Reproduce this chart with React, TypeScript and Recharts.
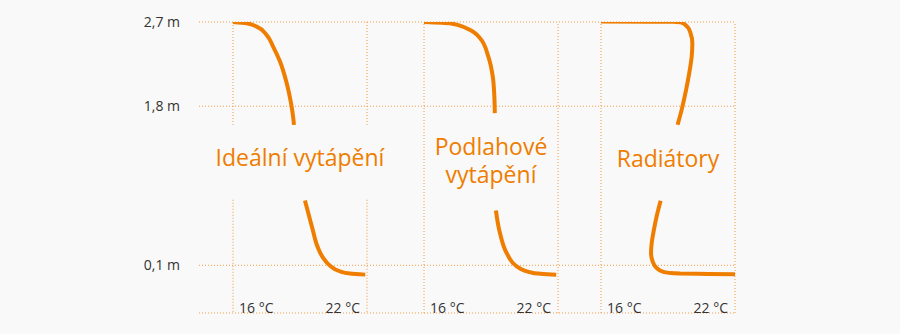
import React from "react";
import { LineChart, Line, XAxis, YAxis, CartesianGrid, ReferenceLine, ReferenceDot } from "recharts";

interface ProfilePoint {
  t: number; // teplota, °C
  h: number; // výška nad podlahou, m
}

const heightTicks = [0.1, 1.8, 2.7];
const tempTicks = [16, 22];

// Ideální vytápění
const idealTop: ProfilePoint[] = [
  { t: 16.0, h: 2.7 },
  { t: 16.61, h: 2.686 },
  { t: 17.06, h: 2.65 },
  { t: 17.51, h: 2.56 },
  { t: 17.79, h: 2.44 },
  { t: 18.1, h: 2.28 },
  { t: 18.4, h: 2.05 },
  { t: 18.6, h: 1.83 },
  { t: 18.7, h: 1.67 },
  { t: 18.73, h: 1.6 },
];
const idealBottom: ProfilePoint[] = [
  { t: 19.22, h: 0.793 },
  { t: 19.37, h: 0.658 },
  { t: 19.57, h: 0.48 },
  { t: 19.78, h: 0.302 },
  { t: 20.04, h: 0.178 },
  { t: 20.34, h: 0.096 },
  { t: 20.79, h: 0.035 },
  { t: 21.24, h: 0.012 },
  { t: 21.92, h: 0.0 },
];

// Podlahové vytápění
const floorTop: ProfilePoint[] = [
  { t: 16.0, h: 2.7 },
  { t: 17.16, h: 2.686 },
  { t: 17.91, h: 2.633 },
  { t: 18.51, h: 2.526 },
  { t: 18.88, h: 2.33 },
  { t: 19.08, h: 2.116 },
  { t: 19.15, h: 1.903 },
  { t: 19.17, h: 1.726 },
];
const floorBottom: ProfilePoint[] = [
  { t: 19.22, h: 0.686 },
  { t: 19.4, h: 0.445 },
  { t: 19.7, h: 0.232 },
  { t: 20.15, h: 0.089 },
  { t: 20.89, h: 0.018 },
  { t: 21.92, h: 0.0 },
];

// Radiátory
const radiatorTop: ProfilePoint[] = [
  { t: 16.0, h: 2.706 },
  { t: 18.2, h: 2.704 },
  { t: 19.24, h: 2.702 },
  { t: 19.61, h: 2.693 },
  { t: 19.86, h: 2.65 },
  { t: 20.01, h: 2.58 },
  { t: 20.09, h: 2.473 },
  { t: 20.06, h: 2.33 },
  { t: 19.95, h: 2.153 },
  { t: 19.81, h: 1.974 },
  { t: 19.61, h: 1.761 },
  { t: 19.43, h: 1.601 },
];
const radiatorBottom: ProfilePoint[] = [
  { t: 18.67, h: 0.79 },
  { t: 18.49, h: 0.622 },
  { t: 18.37, h: 0.48 },
  { t: 18.27, h: 0.338 },
  { t: 18.24, h: 0.232 },
  { t: 18.31, h: 0.142 },
  { t: 18.49, h: 0.071 },
  { t: 18.79, h: 0.029 },
  { t: 19.54, h: 0.011 },
  { t: 20.8, h: 0.008 },
  { t: 22.0, h: 0.005 },
];

const ORANGE = "#ef7d00";
const GRID = "#f29a40";
const TEXT = "#333333";
const BG = "#f9f9f9";

const WIDTH = 900;
const HEIGHT = 334;
const PLOT_LEFT = 199;
const PLOT_RIGHT = 735;
const PLOT_BOTTOM = 313;
const AXIS_H = 7;
const H_MIN = -0.41;
const H_MAX = 2.7;

interface Panel {
  id: string;
  left: number; // x pozice 16 °C
  right: number; // x pozice 22 °C
  title: string[];
  titleH: number;
  top: ProfilePoint[];
  bottom: ProfilePoint[];
  gridGap?: [number, number];
}

// ids sort in panel order, which is also the order the bottom axes are stacked in
const panels: Panel[] = [
  { id: "p1", left: 233, right: 367, title: ["Ideální vytápění"], titleH: 1.25, top: idealTop, bottom: idealBottom, gridGap: [1.6, 0.8] },
  { id: "p2", left: 424, right: 558, title: ["Podlahové", "vytápění"], titleH: 1.21, top: floorTop, bottom: floorBottom },
  { id: "p3", left: 601, right: 735, title: ["Radiátory"], titleH: 1.24, top: radiatorTop, bottom: radiatorBottom },
];

// every panel shares the plot area, so each x axis gets a domain that lands 16/22 °C on its own columns
const domainFor = (left: number, right: number): [number, number] => {
  const pxPerDeg = (right - left) / (tempTicks[1] - tempTicks[0]);
  return [tempTicks[0] - (left - PLOT_LEFT) / pxPerDeg, tempTicks[1] + (PLOT_RIGHT - right) / pxPerDeg];
};

const formatHeight = (v: number) => `${v.toFixed(1).replace(".", ",")} m`;

// bottom axes stack below each other; `lift` pulls each one's labels back to the same baseline
const TempTick = (props: any) => {
  const { x, y, payload, lift = 0 } = props;
  const first = payload.value === tempTicks[0];
  return (
    <text x={first ? x + 6 : x - 7} y={y - lift} textAnchor={first ? "start" : "end"} fill={TEXT} fontSize={14}>
      {`${payload.value} °C`}
    </text>
  );
};

const renderTitle = (lines: string[]) => (props: any) => {
  const vb = props.viewBox || {};
  const cx = vb.x + (vb.width || 0) / 2;
  const cy = vb.y + (vb.height || 0) / 2;
  const lineH = 28;
  const first = cy - ((lines.length - 1) * lineH) / 2 + 8;
  return (
    <g>
      {lines.map((l, i) => (
        <text key={i} x={cx} y={first + i * lineH} textAnchor="middle" fill={ORANGE} fontSize={23}>
          {l}
        </text>
      ))}
    </g>
  );
};

const gridProps = { stroke: GRID, strokeDasharray: "1 2", strokeWidth: 1 };

const App = () => {
  return (
    <div style={{ position: "absolute", left: 0, top: 0, width: WIDTH, height: HEIGHT, background: BG, fontFamily: "'Open Sans', sans-serif" }}>
      <LineChart
        width={WIDTH}
        height={HEIGHT}
        margin={{ top: 22, right: WIDTH - PLOT_RIGHT, bottom: HEIGHT - PLOT_BOTTOM - AXIS_H * panels.length, left: 0 }}
      >
        <CartesianGrid xAxisId={panels[0].id} vertical={false} {...gridProps} />
        {panels.map((p, i) => (
          <XAxis
            key={p.id}
            xAxisId={p.id}
            type="number"
            dataKey="t"
            domain={domainFor(p.left, p.right)}
            allowDataOverflow
            ticks={tempTicks}
            height={AXIS_H}
            tickSize={0}
            tickMargin={0}
            axisLine={false}
            tickLine={false}
            tick={<TempTick lift={i * AXIS_H} />}
          />
        ))}
        <YAxis
          type="number"
          dataKey="h"
          domain={[H_MIN, H_MAX]}
          allowDataOverflow
          ticks={heightTicks}
          width={PLOT_LEFT}
          tickSize={0}
          tickMargin={19}
          axisLine={false}
          tickLine={false}
          tickFormatter={formatHeight}
          tick={{ fill: TEXT, fontSize: 14 }}
        />
        {panels.flatMap((p) =>
          tempTicks.flatMap((t) =>
            p.gridGap
              ? [
                  <ReferenceLine key={`${p.id}-${t}-a`} xAxisId={p.id} segment={[{ x: t, y: H_MAX }, { x: t, y: p.gridGap[0] }]} {...gridProps} />,
                  <ReferenceLine key={`${p.id}-${t}-b`} xAxisId={p.id} segment={[{ x: t, y: p.gridGap[1] }, { x: t, y: H_MIN }]} {...gridProps} />,
                ]
              : [<ReferenceLine key={`${p.id}-${t}`} xAxisId={p.id} x={t} {...gridProps} />]
          )
        )}
        {panels.flatMap((p) =>
          [p.top, p.bottom].map((seg, i) => (
            <Line
              key={`${p.id}-${i}`}
              xAxisId={p.id}
              data={seg}
              dataKey="h"
              type="monotoneY"
              stroke={ORANGE}
              strokeWidth={4}
              strokeLinecap="butt"
              dot={false}
              activeDot={false}
              isAnimationActive={false}
            />
          ))
        )}
        {panels.map((p) => (
          <ReferenceDot
            key={`${p.id}-title`}
            xAxisId={p.id}
            x={(tempTicks[0] + tempTicks[1]) / 2}
            y={p.titleH}
            r={0}
            fill="none"
            stroke="none"
            label={renderTitle(p.title)}
          />
        ))}
      </LineChart>
    </div>
  );
};

export default App;
